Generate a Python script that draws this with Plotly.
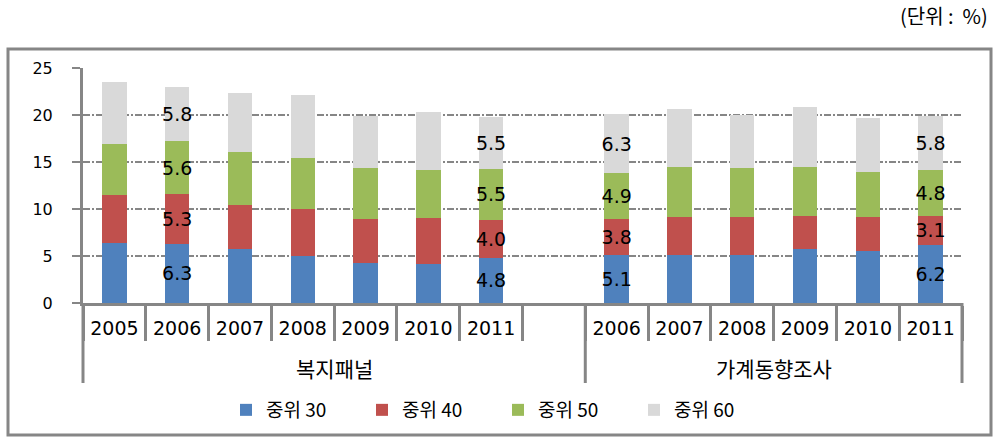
import plotly.graph_objects as go

# ---- data ----
years = ["2005", "2006", "2007", "2008", "2009", "2010", "2011", "",
         "2006", "2007", "2008", "2009", "2010", "2011"]
groups = ["복지패널"] * 8 + ["가계동향조사"] * 6
series_names = ["중위 30", "중위 40", "중위 50", "중위 60"]
m30 = [6.4, 6.3, 5.7, 5.0, 4.3, 4.1, 4.8, None, 5.1, 5.1, 5.1, 5.7, 5.5, 6.2]
m40 = [5.1, 5.3, 4.7, 5.0, 4.6, 4.9, 4.0, None, 3.8, 4.1, 4.1, 3.6, 3.7, 3.1]
m50 = [5.4, 5.6, 5.7, 5.4, 5.5, 5.1, 5.5, None, 4.9, 5.3, 5.2, 5.2, 4.7, 4.8]
m60 = [6.6, 5.8, 6.2, 6.7, 5.5, 6.2, 5.5, None, 6.3, 6.1, 5.6, 6.4, 5.8, 5.8]
labeled = [1, 6, 8, 13]
y_ticks = [0, 5, 10, 15, 20, 25]

colors = ["#4F81BD", "#C0504D", "#9BBB59", "#D9D9D9"]
GRAY = "#868686"

# layout geometry (pixels)
W, H = 999, 441
L, R, T, B = 83, 962, 68, 303

x = list(range(len(years)))

fig = go.Figure()
for name, vals, col in zip(series_names, [m30, m40, m50, m60], colors):
    txt = [f"{v:.1f}" if (i in labeled and v is not None) else "" for i, v in enumerate(vals)]
    fig.add_trace(go.Bar(
        x=x, y=vals, name=name, marker=dict(color=col, line=dict(width=0)),
        text=txt, textposition="inside", insidetextanchor="middle",
        textangle=0, constraintext="none",
        textfont=dict(family="DejaVu Sans", size=19, color="black"),
        hoverinfo="skip",
    ))

def px_x(p):
    return (p - L) / (R - L)

def px_y(p):
    return (B - p) / (B - T)

shapes = []
# outer frame
shapes.append(dict(type="rect", xref="paper", yref="paper",
                   x0=px_x(8), x1=px_x(991), y0=px_y(435), y1=px_y(49),
                   line=dict(color=GRAY, width=3), fillcolor="rgba(0,0,0,0)", layer="below"))
# group dividers (long)
n = len(years)
bounds = [0]
for i in range(1, n):
    if groups[i] != groups[i - 1]:
        bounds.append(i)
bounds.append(n)
for b in bounds:
    shapes.append(dict(type="line", xref="paper", yref="paper",
                       x0=b / n, x1=b / n, y0=0, y1=px_y(383),
                       line=dict(color=GRAY, width=3)))

annotations = []
# group labels
for gi in range(len(bounds) - 1):
    a, b = bounds[gi], bounds[gi + 1]
    annotations.append(dict(text=groups[a], xref="paper", yref="paper",
                            x=(a + b) / 2 / n, y=px_y(368), showarrow=False,
                            xanchor="center", yanchor="middle",
                            font=dict(family="Noto Sans CJK KR", size=21, color="black")))
# unit note
annotations.append(dict(text="(단위 :  %)", xref="paper", yref="paper",
                        x=px_x(990), y=px_y(16), showarrow=False,
                        xanchor="right", yanchor="middle",
                        font=dict(family="Noto Sans CJK KR", size=20, color="black")))

fig.update_layout(
    width=W, height=H,
    margin=dict(l=L, r=W - R, t=T, b=H - B),
    paper_bgcolor="white", plot_bgcolor="white",
    barmode="stack", bargap=0.61,
    showlegend=True,
    legend=dict(orientation="h", x=px_x(226), xanchor="left", y=px_y(410), yanchor="middle",
                traceorder="normal", font=dict(family="Noto Sans CJK KR", size=19, color="black"),
                entrywidth=91, entrywidthmode="pixels", bgcolor="rgba(0,0,0,0)"),
    shapes=shapes, annotations=annotations,
    uniformtext=dict(mode=False),
)

fig.update_xaxes(
    range=[-0.5, n - 0.5], automargin=False,
    tickmode="array", tickvals=x, ticktext=years, ticks="",
    tickfont=dict(family="DejaVu Sans", size=19, color="black"),
    ticklabelstandoff=6,
    showline=True, linecolor=GRAY, linewidth=3,
    showgrid=False, zeroline=False,
    minor=dict(tickmode="array", tickvals=[i - 0.5 for i in range(n + 1)],
               ticks="outside", ticklen=35, tickwidth=3, tickcolor=GRAY, showgrid=False),
)
fig.update_yaxes(
    range=[0, 25], automargin=False,
    tickmode="array", tickvals=y_ticks,
    ticks="outside", ticklen=8, tickwidth=2, tickcolor=GRAY,
    tickfont=dict(family="DejaVu Sans", size=16, color="black"),
    ticklabelstandoff=16,
    showline=True, linecolor=GRAY, linewidth=3,
    showgrid=True, gridcolor=GRAY, gridwidth=2, griddash="7px,2px,2px,2px",
    zeroline=False,
)

fig.write_html("out.html", config={"displayModeBar": False},
               post_script="document.body.style.margin='0';")
